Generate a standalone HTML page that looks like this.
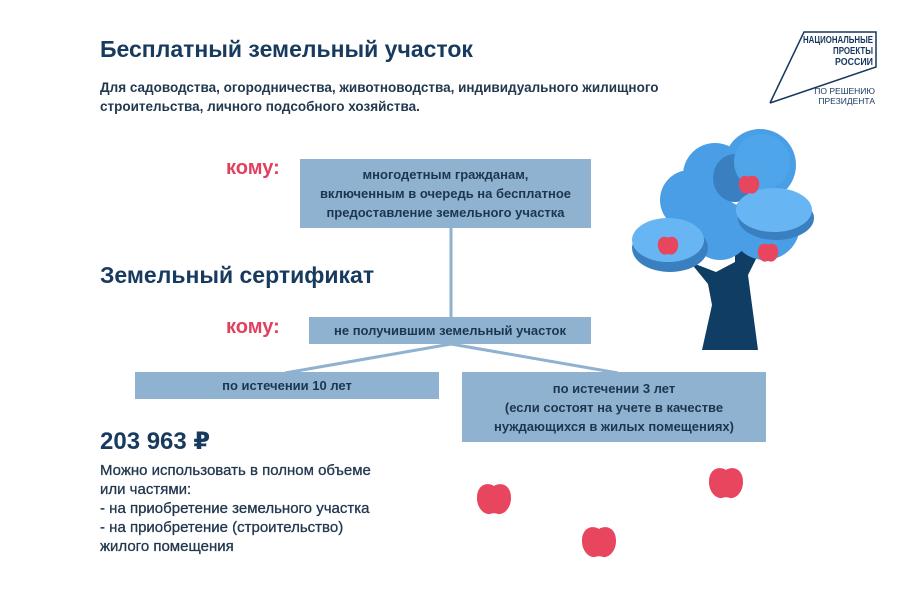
<!DOCTYPE html>
<html><head><meta charset="utf-8"><style>
body{margin:0;width:900px;height:600px;background:#fff;position:relative;overflow:hidden;font-family:"Liberation Sans","DejaVu Sans",sans-serif;color:#17375e}
.a{position:absolute;white-space:nowrap}
.h{font-weight:bold;font-size:23px;color:#173a5e}
.sub{font-weight:bold;font-size:13.5px;color:#22384f;line-height:19px}
.red{color:#e2405f;font-weight:bold;font-size:20px}
.box{position:absolute;background:#8eb2cf;color:#1d3650;font-weight:bold;font-size:13px;text-align:center;line-height:19px;display:flex;align-items:center;justify-content:center}
.p{font-size:15px;line-height:19px;color:#22384f;transform-origin:left top;-webkit-text-stroke:0.3px #22384f}
</style></head><body>
<div class="a h" style="left:100px;top:36px">Бесплатный земельный участок</div>
<div class="a sub" style="left:100px;top:78px">Для садоводства, огородничества, животноводства, индивидуального жилищного<br>строительства, личного подсобного хозяйства.</div>

<svg class="a" style="left:760px;top:25px" width="130" height="90">
<polyline points="10,78 44,7 116,7 116,42 10,78" fill="none" stroke="#17375e" stroke-width="1.5"/>
<text x="113" y="18" text-anchor="end" font-family="Liberation Sans" font-weight="bold" font-size="10.5" fill="#17375e" textLength="70" lengthAdjust="spacingAndGlyphs">НАЦИОНАЛЬНЫЕ</text>
<text x="113" y="29" text-anchor="end" font-family="Liberation Sans" font-weight="bold" font-size="10.5" fill="#17375e" textLength="40" lengthAdjust="spacingAndGlyphs">ПРОЕКТЫ</text>
<text x="113" y="40" text-anchor="end" font-family="Liberation Sans" font-weight="bold" font-size="10.5" fill="#17375e" textLength="38" lengthAdjust="spacingAndGlyphs">РОССИИ</text>
<text x="115" y="69" text-anchor="end" font-family="Liberation Sans" font-size="8.5" fill="#17375e">ПО РЕШЕНИЮ</text>
<text x="115" y="79" text-anchor="end" font-family="Liberation Sans" font-size="8.5" fill="#17375e">ПРЕЗИДЕНТА</text>
</svg>

<svg class="a" style="left:0;top:0" width="900" height="600">
<line x1="451" y1="228" x2="451" y2="318" stroke="#8eb2cf" stroke-width="3"/>
<line x1="451" y1="344" x2="285" y2="373" stroke="#8eb2cf" stroke-width="3"/>
<line x1="451" y1="344" x2="618" y2="373" stroke="#8eb2cf" stroke-width="3"/>
</svg>

<div class="a red" style="left:226px;top:157px">кому:</div>
<div class="box" style="left:300px;top:159px;width:291px;height:69px">многодетным гражданам,<br>включенным в очередь на бесплатное<br>предоставление земельного участка</div>
<div class="a h" style="left:100px;top:262px">Земельный сертификат</div>
<div class="a red" style="left:226px;top:316px">кому:</div>
<div class="box" style="left:309px;top:317px;width:282px;height:27px">не получившим земельный участок</div>
<div class="box" style="left:135px;top:372px;width:304px;height:27px">по истечении 10 лет</div>
<div class="box" style="left:462px;top:372px;width:304px;height:70px">по истечении 3 лет<br>(если состоят на учете в качестве<br>нуждающихся в жилых помещениях)</div>

<div class="a h" style="left:100px;top:427px;font-size:24px">203 963 ₽</div>
<div class="a p" style="left:100px;top:461px">Можно использовать в полном объеме<br>или частями:<br>- на приобретение земельного участка<br>- на приобретение (строительство)<br>жилого помещения</div>

<svg class="a" style="left:0;top:0" width="900" height="600">
<defs><path id="ap" d="M0,-12 C-6,-16 -17,-14 -17,0 C-17,10 -10,17 -4,16 C-2,15 2,15 4,16 C10,17 17,10 17,0 C17,-14 6,-16 0,-12Z" fill="#e8465f"/></defs>
<use href="#ap" transform="translate(494,498)"/>
<use href="#ap" transform="translate(726,482)"/>
<use href="#ap" transform="translate(599,541)"/>
<g>
<path d="M702,350 L758,350 L752,305 L748,275 L758,255 L772,243 L760,245 L748,256 L746,225 L735,225 L735,262 L716,272 L690,262 L708,284 L712,305 Z" fill="#0f3d63"/>
<circle cx="690" cy="200" r="30" fill="#4a9ee6"/>
<circle cx="715" cy="175" r="32" fill="#4a9ee6"/>
<circle cx="760" cy="165" r="36" fill="#4a9ee6"/>
<circle cx="765" cy="225" r="35" fill="#4a9ee6"/>
<circle cx="720" cy="230" r="30" fill="#4a9ee6"/>
<ellipse cx="735" cy="178" rx="22" ry="24" fill="#3a80c0"/>
<circle cx="762" cy="162" r="28" fill="#4ea5ea"/>
<ellipse cx="776" cy="218" rx="38" ry="22" fill="#3a80c0"/>
<ellipse cx="774" cy="210" rx="38" ry="22" fill="#67b6f3"/>
<ellipse cx="670" cy="248" rx="38" ry="24" fill="#3a80c0"/>
<ellipse cx="668" cy="240" rx="36" ry="22" fill="#67b6f3"/>
<use href="#ap" transform="translate(749,184) scale(.6)"/>
<use href="#ap" transform="translate(668,245) scale(.6)"/>
<use href="#ap" transform="translate(768,252) scale(.6)"/>
</g>
</svg>
</body></html>
